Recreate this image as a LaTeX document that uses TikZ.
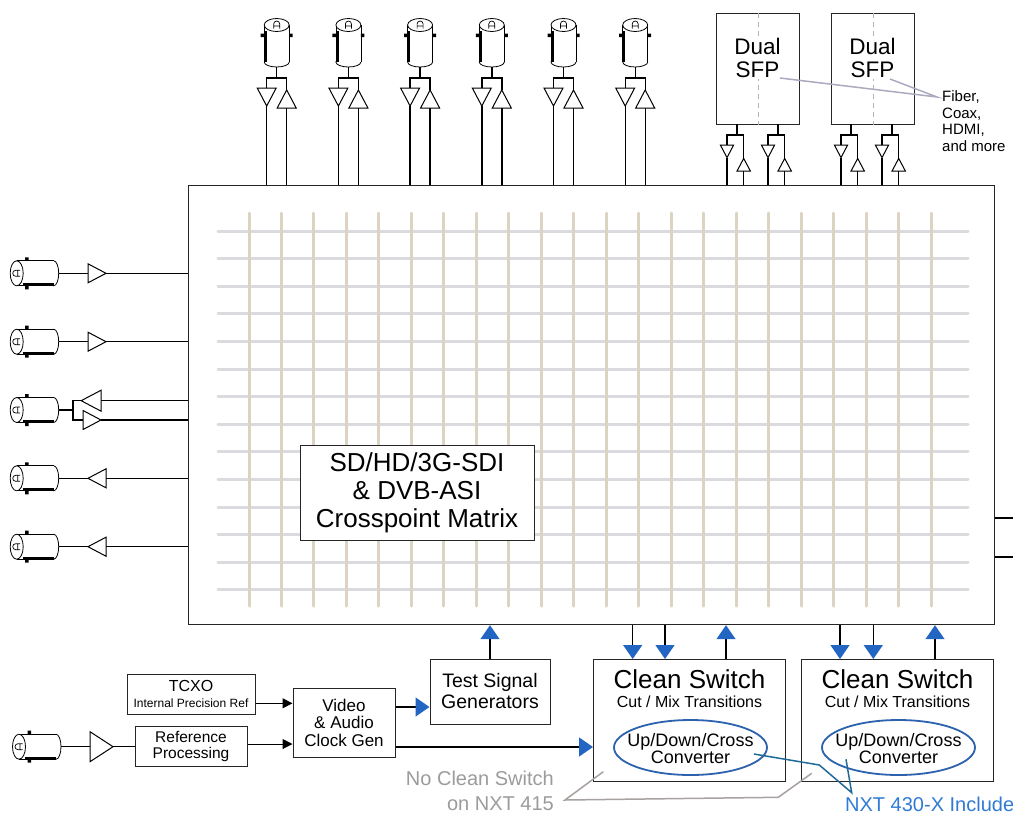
\documentclass[tikz,border=0pt]{standalone}
\usepackage{fontspec}
\setmainfont{Liberation Sans}
\usetikzlibrary{arrows.meta}
\usetikzlibrary{shapes.geometric}
\definecolor{gridtan}{HTML}{DDD3C3}
\definecolor{gridgray}{HTML}{DADADF}
\definecolor{tipblue}{HTML}{2365C2}
\definecolor{convblue}{HTML}{2D62AE}
\definecolor{leadblue}{HTML}{1F6A99}
\definecolor{noteblue}{HTML}{2F7BD3}
\definecolor{leadgray}{HTML}{A7A19F}
\definecolor{notegray}{HTML}{9B9B9B}
\definecolor{sfpgray}{HTML}{ABAAC0}
\tikzset{box/.style={draw=black!85,fill=white,line width=1pt,align=center,inner sep=0pt},
 lbl/.style={inner sep=0pt,align=center},
 wire/.style={line width=1.4pt},
 bluetip/.style={wire,-{Triangle[length=14pt,width=19pt,color=tipblue]}},
 blacktip/.style={line width=1pt,-{Triangle[length=10pt,width=10pt]}},
 conv/.style={ellipse,draw=convblue,line width=1.8pt,inner sep=0pt,minimum width=153pt,minimum height=55pt},
 bnc/.pic={
  \draw[line width=0.8pt,fill=white] (37,0) ellipse [x radius=5,y radius=12.5];
  \fill[white] (0,-12.5) rectangle (37,12.5);
  \draw[line width=0.8pt] (0,-12.5) -- (37,-12.5) (0,12.5) -- (37,12.5);
  \draw[line width=2.4pt] (6,11) -- (37,11);
  \fill (8.5,-16) rectangle (12,-12.5) (8.5,12.5) rectangle (12,16);
  \draw[line width=0.8pt,fill=white] (0,0) ellipse [x radius=6.5,y radius=12.5];
  \draw[line width=0.7pt] (3.5,-3) -- (-1,-3) arc[start angle=-90,end angle=-270,radius=3] -- (3.5,3) (1,-3) -- (1,3);
  \coordinate (-out) at (42,0);
 },
 buf/.pic={
  \draw[fill=white,line width=1pt] (0,-9.5) -- (18,0) -- (0,9.5) -- cycle;
  \coordinate (-in) at (0,0);
  \coordinate (-out) at (18,0);
 },
}

\begin{document}
\begin{tikzpicture}[x=1pt,y=-1pt]
\useasboundingbox (0,0) rectangle (1013,815);

% crosspoint matrix
\node[box,line width=1.2pt,minimum width=806pt,minimum height=439pt,anchor=north west] (xpt) at (188,185) {};
\foreach \r in {0,...,13}
  \draw[gridgray,line width=3pt,line cap=round] (218,231+27.6*\r) -- (968,231+27.6*\r);
\foreach \c in {0,...,21}
  \draw[gridtan,line width=3pt,line cap=round] (249+32.48*\c,213) -- (249+32.48*\c,606);
\node[box,minimum width=234pt,minimum height=95pt,font=\fontsize{26}{28}\selectfont] (xptlbl) at (417,492.5) {SD/HD/3G-SDI\\\& DVB-ASI\\Crosspoint Matrix};

% top bnc
\foreach \k [evaluate=\k as \c using 276.7+71.7*\k] in {0,...,5}{
  \pic[rotate=-90] (tb\k) at (\c,25) {bnc};
  \pic[rotate=-90] (td\k) at (\c-10,88) {buf};
  \pic[rotate=90] (tu\k) at (\c+10,108) {buf};
  \coordinate (tj\k) at (\c,78);
  \draw[wire] (tb\k-out) -- (tj\k) -| (td\k-in);
  \draw[wire] (tj\k) -| (tu\k-out);
  \draw[wire] (td\k-out) -- (td\k-out |- xpt.north);
  \draw[wire] (tu\k-in) -- (tu\k-in |- xpt.north);
}

% sfp
\foreach \s/\n in {716/a,831/b}{
  \node[box,minimum width=83pt,minimum height=111pt,anchor=north west] (sfp\n) at (\s,13) {};
  \draw[black!30,line width=0.8pt,dash pattern=on 5pt off 4pt] (sfp\n.north) -- (sfp\n.south);
  \node[lbl,fill=white,inner sep=1pt,font=\fontsize{22.5}{23}\selectfont] (sfp\n lbl) at (\s+41.5,58) {Dual\\SFP};
}
\foreach \s [count=\i] in {737,778,851,892}{
  \coordinate (sfs\i) at (\s,124);
  \coordinate (sfj\i) at (\s,135);
  \pic[rotate=-90,scale=0.7] (sfd\i) at (\s-10,145) {buf};
  \pic[rotate=90,scale=0.7] (sfu\i) at (\s+6.7,171) {buf};
  \draw[wire] (sfs\i) -- (sfj\i) -| (sfd\i-in);
  \draw[wire] (sfj\i) -| (sfu\i-out);
  \draw[wire] (sfd\i-out) -- (sfd\i-out |- xpt.north);
  \draw[wire] (sfu\i-in) -- (sfu\i-in |- xpt.north);
}
\node[lbl,anchor=west,align=left,font=\fontsize{15}{16.5}\selectfont] (fiber) at (942,121) {Fiber,\\Coax,\\HDMI,\\and more};
\coordinate (fibtip) at (937,97);
\coordinate (sfpaend) at (780,78);
\coordinate (sfpbend) at (890,79);
\draw[sfpgray,line width=1.5pt] (sfpaend) -- (fibtip) -- (sfpbend);

% left bnc
\foreach \y [count=\i] in {273.3,341.7,410,478.3,546.7}
  \pic (lb\i) at (16.7,\y) {bnc};
\foreach \i/\y in {1/273.3,2/341.7}{
  \pic (lr\i) at (88,\y) {buf};
  \draw[wire] (lb\i-out) -- (lr\i-in);
  \draw[wire] (lr\i-out) -- (lr\i-out -| xpt.west);
}
\foreach \i/\y in {4/478.3,5/546.7}{
  \pic[rotate=180] (ll\i) at (106,\y) {buf};
  \draw[wire] (lb\i-out) -- (ll\i-out);
  \draw[wire] (ll\i-in) -- (ll\i-in -| xpt.west);
}
\coordinate (lj) at (73,410);
\pic[rotate=180,scale=1.1] (lu) at (101,400.7) {buf};
\pic (ld) at (83,420) {buf};
\draw[wire] (lb3-out) -- (lj);
\draw[wire] (lj) |- (lu-out);
\draw[wire] (lj) |- (ld-in);
\draw[wire] (lu-in) -- (lu-in -| xpt.west);
\draw[wire] (ld-out) -- (ld-out -| xpt.west);

% right outputs
\coordinate (outa) at (1013,518);
\coordinate (outb) at (1013,557);
\draw[wire] (xpt.east |- outa) -- (outa);
\draw[wire] (xpt.east |- outb) -- (outb);

% reference and clocks
\node[box,minimum width=128pt,minimum height=40pt,font=\fontsize{16}{16}\selectfont] (tcxo) at (191,694) {TCXO\\{\fontsize{12}{13}\selectfont Internal Precision Ref}};
\node[box,minimum width=112pt,minimum height=40pt,font=\fontsize{15.5}{16}\selectfont] (refproc) at (191,746) {Reference\\Processing};
\node[box,minimum width=102pt,minimum height=69pt,font=\fontsize{17}{17.5}\selectfont] (clockgen) at (344,722.5) {Video\\\& Audio\\Clock Gen};
\node[box,minimum width=120pt,minimum height=65pt,font=\fontsize{19.5}{21}\selectfont] (testgen) at (490,691.5) {Test Signal\\Generators};
\pic (rb) at (19,746.7) {bnc};
\pic[xscale=1.28,yscale=1.58] (rbuf) at (90,746.7) {buf};
\draw[wire] (rb-out) -- (rbuf-in);
\draw[wire] (rbuf-out) -- (rbuf-out -| refproc.west);
\draw[blacktip] (tcxo.east |- 0,703.3) -- (clockgen.west |- 0,703.3);
\draw[blacktip] (refproc.east |- 0,744) -- (clockgen.west |- 0,744);

% clean switches
\foreach \n/\x in {a/689.5,b/897.5}{
  \node[box,minimum width=192pt,minimum height=122pt] (cs\n) at (\x,720.5) {};
  \node[lbl,font=\fontsize{26}{26}\selectfont] (cs\n-t) at (\x,679) {Clean Switch};
  \node[lbl,font=\fontsize{16}{16}\selectfont] (cs\n-s) at (\x,702) {Cut / Mix Transitions};
  \node[conv] (cv\n) at (\x+1,747.5) {};
  \node[lbl,font=\fontsize{18}{17}\selectfont] (cv\n-t) at (\x+1,749) {Up/Down/Cross\\Converter};
}
\foreach \x in {632.7,665}
  \draw[bluetip] (\x,0 |- xpt.south) -- (\x,0 |- csa.north);
\draw[bluetip] (726,0 |- csa.north) -- (726,0 |- xpt.south);
\foreach \x in {840,873.3}
  \draw[bluetip] (\x,0 |- xpt.south) -- (\x,0 |- csb.north);
\draw[bluetip] (935,0 |- csb.north) -- (935,0 |- xpt.south);
\draw[bluetip] (testgen.north) -- (testgen.north |- xpt.south);
\draw[bluetip] (clockgen.east |- 0,707) -- (testgen.west |- 0,707);
\draw[bluetip] (clockgen.east |- 0,747) -- (csa.west |- 0,747);

% notes
\coordinate (ncsa) at (603.3,771.7);
\coordinate (ncsk) at (565,800);
\coordinate (ncsm) at (778.3,797.3);
\coordinate (ncsb) at (811.7,773.3);
\draw[leadgray,line width=1.5pt] (ncsa) -- (ncsk) -- (ncsm) -- (ncsb);
\node[lbl,anchor=east,align=right,text=notegray,font=\fontsize{20}{25}\selectfont] (nocs) at (554,791) {No Clean Switch\\on NXT 415};
\coordinate (xcva) at (754,754);
\coordinate (xbend) at (819.3,765);
\coordinate (xtip) at (851.7,792.7);
\coordinate (xcvb) at (846,759.3);
\draw[leadblue,line width=1.5pt] (xcva) -- (xbend) -- (xtip) -- (xcvb);
\node[lbl,anchor=west,text=noteblue,font=\fontsize{20}{24}\selectfont] (nxt) at (845,804) {NXT 430-X Includes};
\end{tikzpicture}
\end{document}
